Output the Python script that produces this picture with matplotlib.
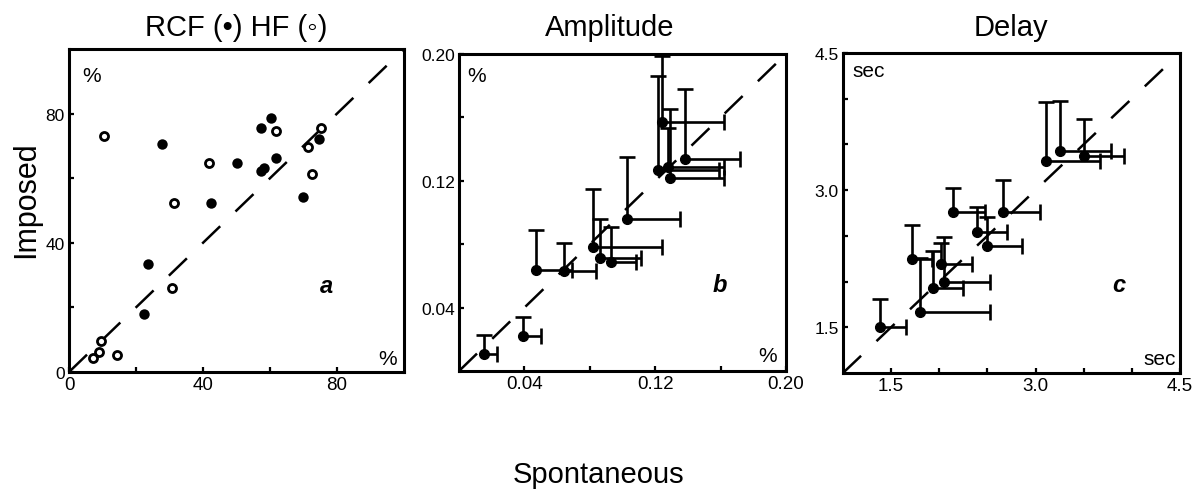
import numpy as np
import matplotlib
matplotlib.use('Agg')
import matplotlib.pyplot as plt

plt.rcParams['font.family'] = ['Liberation Sans', 'DejaVu Sans']

# panel a: RCF (filled) and HF (open), percent
rcf_x = [60.4, 57.3, 27.7, 50.2, 61.9, 58.2, 57.2, 74.6, 42.3, 69.7, 23.6, 22.3]
rcf_y = [78.7, 75.5, 70.5, 64.7, 66.4, 63.2, 62.2, 72.0, 52.4, 54.1, 33.3, 17.8]
hf_x = [10.4, 61.9, 75.3, 71.4, 41.9, 72.4, 31.4, 30.6, 9.6, 8.9, 7.1, 14.3]
hf_y = [73.1, 74.7, 75.5, 69.7, 64.7, 61.4, 52.4, 26.0, 9.5, 6.2, 4.4, 5.4]

# panel b: amplitude, point + upper / right end of error bars
amp_x = [0.015, 0.039, 0.047, 0.064, 0.082, 0.086, 0.093, 0.103, 0.122, 0.124, 0.138, 0.128, 0.129]
amp_y = [0.011, 0.022, 0.064, 0.063, 0.078, 0.071, 0.069, 0.096, 0.127, 0.157, 0.134, 0.129, 0.122]
amp_top = [0.023, 0.034, 0.089, 0.081, 0.115, 0.096, 0.091, 0.135, 0.186, 0.199, 0.178, 0.153, 0.165]
amp_right = [0.023, 0.050, 0.069, 0.084, 0.124, 0.111, 0.108, 0.135, 0.159, 0.162, 0.172, 0.162, 0.162]

# panel c: delay (sec)
del_x = [1.38, 1.80, 1.72, 1.94, 2.05, 2.02, 2.14, 2.39, 2.50, 2.66, 3.11, 3.25, 3.50]
del_y = [1.50, 1.67, 2.25, 1.93, 1.99, 2.19, 2.76, 2.54, 2.39, 2.76, 3.32, 3.43, 3.37]
del_top = [1.81, 2.26, 2.62, 2.33, 2.49, 2.42, 3.02, 2.82, 2.71, 3.11, 3.96, 3.97, 3.78]
del_right = [1.66, 2.53, 1.92, 2.25, 2.53, 2.34, 2.48, 2.70, 2.86, 3.05, 3.67, 3.78, 3.92]


def style(ax, lims, major, minor, labels):
	ax.set_xlim(lims)
	ax.set_ylim(lims)
	ax.plot(lims, lims, color='black', lw=1.8, dashes=(10, 8.5), zorder=1)
	ax.set_xticks(major)
	ax.set_xticklabels(labels)
	ax.set_yticks(major)
	ax.set_yticklabels(labels)
	ax.set_xticks(minor, minor=True)
	ax.set_yticks(minor, minor=True)
	for s in ax.spines.values():
		s.set_linewidth(2.2)
	ax.tick_params(which='both', direction='in', length=3.8, width=1.6,
		top=False, right=False)
	ax.tick_params(axis='x', labelsize=13.5, pad=3)
	ax.tick_params(axis='y', labelsize=12.5, pad=3)


def err_panel(ax, x, y, top, right):
	x = np.array(x)
	y = np.array(y)
	yerr = [np.zeros(len(y)), np.array(top) - y]
	xerr = [np.zeros(len(x)), np.array(right) - x]
	eb = ax.errorbar(x, y, xerr=xerr, yerr=yerr, fmt='o', color='black', ms=7,
		elinewidth=1.9, capsize=5.5, capthick=1.9, zorder=3)
	caps = eb[1]
	caps[0].set_visible(False)
	caps[2].set_visible(False)


fig = plt.figure(figsize=(11.96, 5.02), dpi=100)
ax1 = fig.add_axes([0.0577, 0.2570, 0.2801, 0.6434])
ax2 = fig.add_axes([0.3838, 0.2590, 0.2734, 0.6315])
ax3 = fig.add_axes([0.7048, 0.2550, 0.2818, 0.6375])

style(ax1, [0, 100], [0, 40, 80], [20, 60], ['0', '40', '80'])
ax1.plot(rcf_x, rcf_y, 'o', color='black', ms=7.5, mew=0, zorder=3)
ax1.plot(hf_x, hf_y, 'o', mfc='white', mec='black', ms=5.8, mew=2.0, zorder=3)

style(ax2, [0, 0.20], [0.04, 0.12, 0.20], [0.08, 0.16], ['0.04', '0.12', '0.20'])
err_panel(ax2, amp_x, amp_y, amp_top, amp_right)

style(ax3, [1.0, 4.5], [1.5, 3.0, 4.5], [2.0, 2.5, 3.5, 4.0], ['1.5', '3.0', '4.5'])
err_panel(ax3, del_x, del_y, del_top, del_right)

# corner unit labels
ax1.text(0.039, 0.901, '%', transform=ax1.transAxes, fontsize=15, ha='left', va='baseline')
ax1.text(0.979, 0.025, '%', transform=ax1.transAxes, fontsize=15, ha='right', va='baseline')
ax2.text(0.024, 0.915, '%', transform=ax2.transAxes, fontsize=15, ha='left', va='baseline')
ax2.text(0.972, 0.032, '%', transform=ax2.transAxes, fontsize=15, ha='right', va='baseline')
ax3.text(0.027, 0.928, 'sec', transform=ax3.transAxes, fontsize=15, ha='left', va='baseline')
ax3.text(0.988, 0.028, 'sec', transform=ax3.transAxes, fontsize=15, ha='right', va='baseline')

for ax, letter, px, py in [(ax1, 'a', 0.749, 0.248), (ax2, 'b', 0.774, 0.252), (ax3, 'c', 0.80, 0.256)]:
	ax.text(px, py, letter, transform=ax.transAxes, fontsize=17, fontweight='bold',
		fontstyle='italic', ha='left', va='baseline')

# titles and shared labels
fig.text(236 / 1196, 1 - 36 / 502, 'RCF (•) HF (◦)', fontsize=21, ha='center', va='baseline')
fig.text(610 / 1196, 1 - 36 / 502, 'Amplitude', fontsize=21, ha='center', va='baseline')
fig.text(1011 / 1196, 1 - 36 / 502, 'Delay', fontsize=21, ha='center', va='baseline')
fig.text(11 / 1196, 1 - 200 / 502, 'Imposed', fontsize=22, rotation=90, ha='left', va='center')
fig.text(598 / 1196, 1 - 475 / 502, 'Spontaneous', fontsize=21, ha='center', va='center')

fig.savefig('out.png', dpi=100)
